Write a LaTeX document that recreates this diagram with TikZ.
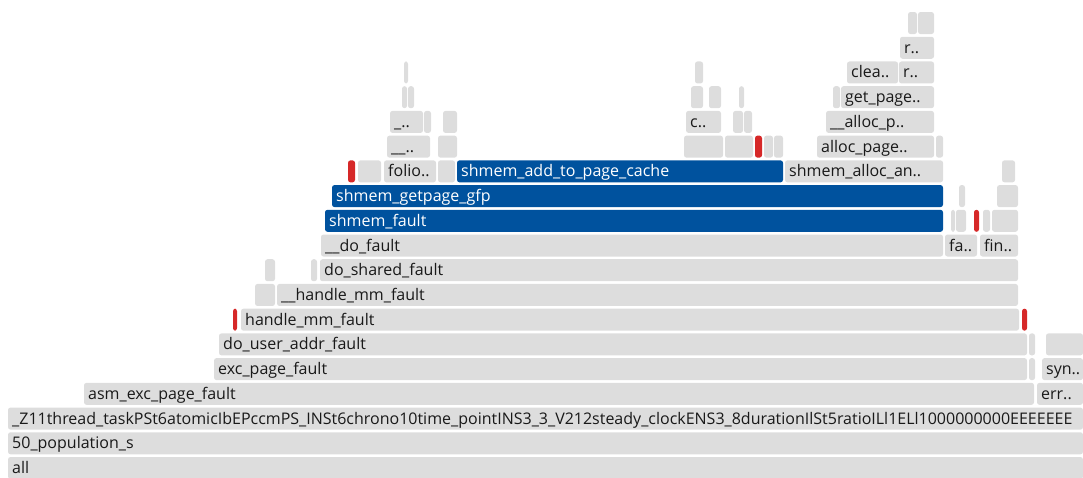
\documentclass[tikz,border=0pt]{standalone}
\usepackage{fontspec}
\setmainfont{Open Sans}
\definecolor{fggrey}{RGB}{221,221,221}
\definecolor{fgblue}{RGB}{0,82,158}
\definecolor{fgred}{RGB}{214,40,40}
\definecolor{fgtext}{RGB}{25,25,25}
\newcommand{\fgfont}{\fontsize{16}{19}\selectfont}
\newcommand{\rowtop}[1]{457-24.72*#1}

\begin{document}
\begin{tikzpicture}[x=1pt, y=-1pt,
		bar/.style={rounded corners=2.5pt},
		lbl/.style={anchor=base west, inner sep=0pt, font=\fgfont, text=fgtext}]
	\useasboundingbox (0,0) rectangle (1083,478);
	% frames with a label
	\foreach \xa/\xb/\r/\lab [count=\i] in {
			8/1083/0/all, 8/1083/1/50\_population\_s,
			8/1083/2/\_Z11thread\_taskPSt6atomicIbEPccmPS\_INSt6chrono10time\_pointINS3\_3\_V212steady\_clockENS3\_8durationIlSt5ratioILl1ELl1000000000EEEEEEE,
			84/1034/3/asm\_exc\_page\_fault, 1037/1083/3/err..,
			214/1027/4/exc\_page\_fault, 1042/1083/4/syn..,
			219/1027/5/do\_user\_addr\_fault,
			241/1019/6/handle\_mm\_fault,
			277/1018/7/\_\_handle\_mm\_fault,
			320/1018/8/do\_shared\_fault,
			321/943/9/\_\_do\_fault, 945/977/9/fa.., 980/1018/9/fin..,
			384/436/12/folio.., 785/943/12/shmem\_alloc\_an..,
			387/430/13/\_\_.., 817/934/13/alloc\_page..,
			390/423/14/\_.., 686/721/14/c.., 826/934/14/\_\_alloc\_p..,
			841/934/15/get\_page..,
			847/898/16/clea.., 899/934/16/r..,
			900/934/17/r..}
	{
		\fill[bar, fggrey] (\xa,{\rowtop{\r}}) rectangle (\xb,{\rowtop{\r}+22});
		\node[lbl] (g\i) at (\xa+4,{\rowtop{\r}+16.5}) {\lab};
	}
	% hot path
	\foreach \xa/\xb/\r/\lab [count=\i] in {
			325/943/10/shmem\_fault,
			332/943/11/shmem\_getpage\_gfp,
			457/783/12/shmem\_add\_to\_page\_cache}
	{
		\fill[bar, fgblue] (\xa,{\rowtop{\r}}) rectangle (\xb,{\rowtop{\r}+22});
		\node[lbl, text=white] (h\i) at (\xa+4,{\rowtop{\r}+16.5}) {\lab};
	}
	% narrow frames, no room for text
	\foreach \xa/\xb/\r in {1029/1035/4, 1029/1035/5, 1046/1083/5, 255/275/7,
			265/275/8, 311/317/8, 951/955/10, 956/966/10, 983/990/10, 992/1018/10,
			959/965/11, 997/1018/11, 358/381/12, 438/455/12, 1002/1015/12,
			438/457/13, 684/723/13, 725/753/13, 764/773/13, 774/783/13, 936/943/13,
			424/431/14, 443/457/14, 733/743/14, 744/752/14,
			402/407/15, 408/414/15, 691/703/15, 709/721/15, 739/744/15, 833/840/15,
			404/408/16, 695/703/16, 908/917/18, 918/934/18}
		\fill[bar, fggrey] (\xa,{\rowtop{\r}}) rectangle (\xb,{\rowtop{\r}+22});
	\foreach \xa/\xb/\r in {233/237/6, 1022/1027/6, 974/979/10, 348/355/12, 755/762/13}
		\fill[bar, fgred] (\xa,{\rowtop{\r}}) rectangle (\xb,{\rowtop{\r}+22});
\end{tikzpicture}
\end{document}
